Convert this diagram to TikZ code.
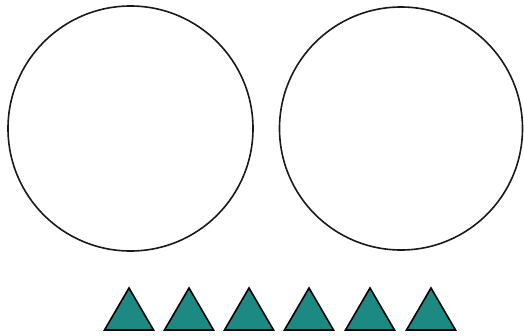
\documentclass[tikz,border=0pt]{standalone}
\definecolor{teal1}{RGB}{28,138,130}
\begin{document}
\begin{tikzpicture}[x=1pt,y=-1pt,
  ring/.style={draw=black!90,line width=1.6pt},
  tri/.style={draw=black,fill=teal1,line width=1.6pt,line join=miter}]
\useasboundingbox (0,0) rectangle (524,335);
\draw[ring] (130.5,128.5) circle[radius=122.5];
\draw[ring] (401,128.5) circle[radius=121.5];
\foreach \cx in {129,189,249,309,370,431}{
  \draw[tri] (\cx-24.5,330) -- (\cx,288) -- (\cx+24.5,330) -- cycle;
}
\end{tikzpicture}
\end{document}
